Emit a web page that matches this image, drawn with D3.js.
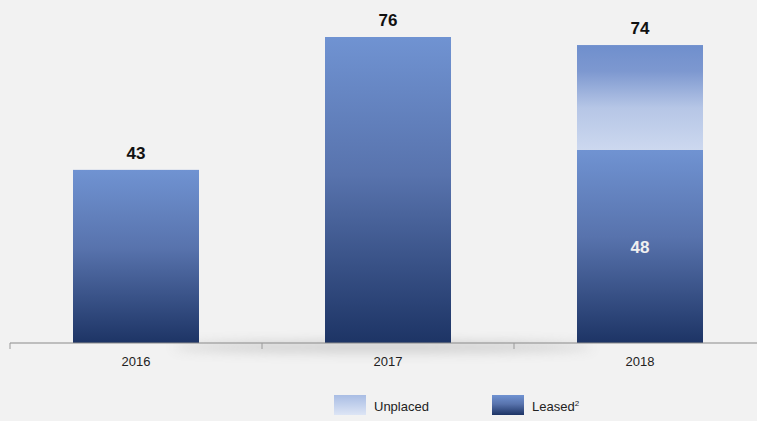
<!DOCTYPE html>
<html><head><meta charset="utf-8">
<script src="https://cdn.jsdelivr.net/npm/d3@7"></script>
<style>
html,body{margin:0;padding:0;background:#f2f2f2;}
svg{display:block;font-family:"Liberation Sans",Arial,sans-serif;}
</style></head>
<body><svg id="c" width="757" height="421"></svg>
<script>
const years = ["2016","2017","2018"];
const leased = [43, 76, 48];
const unplaced = [0, 0, 26];
const totals = [43, 76, 74];
const showInner = [false, false, true];

const W = 757, H = 421;
const svg = d3.select("#c");
const x = d3.scaleBand().domain(years).range([10, 766]).paddingInner(0.5).paddingOuter(0.25);
const y = d3.scaleLinear().domain([0, 76]).range([343, 37]);

const defs = svg.append("defs");
const gL = defs.append("linearGradient").attr("id","gL").attr("x1",0).attr("y1",0).attr("x2",0).attr("y2",1);
gL.append("stop").attr("offset","0%").attr("stop-color","#7093d2");
gL.append("stop").attr("offset","45%").attr("stop-color","#5873ad");
gL.append("stop").attr("offset","100%").attr("stop-color","#1d3465");
const gU = defs.append("linearGradient").attr("id","gU").attr("x1",0).attr("y1",0).attr("x2",0).attr("y2",1);
gU.append("stop").attr("offset","0%").attr("stop-color","#6f8fcd");
gU.append("stop").attr("offset","25%").attr("stop-color","#7d98d0");
gU.append("stop").attr("offset","60%").attr("stop-color","#b6c6e6");
gU.append("stop").attr("offset","100%").attr("stop-color","#ccd8ef");
const gLegU = defs.append("linearGradient").attr("id","gLegU").attr("x1",0).attr("y1",0).attr("x2",0).attr("y2",1);
gLegU.append("stop").attr("offset","0%").attr("stop-color","#a9bde4");
gLegU.append("stop").attr("offset","100%").attr("stop-color","#dde5f5");
const f = defs.append("filter").attr("id","blur").attr("x","-20%").attr("y","-200%").attr("width","140%").attr("height","500%");
f.append("feGaussianBlur").attr("stdDeviation", 6);

// soft shadow under axis
svg.append("ellipse").attr("cx", 383).attr("cy", 347).attr("rx", 210).attr("ry", 5)
  .attr("fill", "#9a9a9a").attr("opacity", 0.45).attr("filter","url(#blur)");

// leased bars
svg.selectAll("rect.l").data(years).join("rect").attr("class","l")
  .attr("x", d => x(d)).attr("width", x.bandwidth())
  .attr("y", (d,i) => y(leased[i])).attr("height", (d,i) => y(0) - y(leased[i]))
  .attr("fill", "url(#gL)");
// unplaced
svg.selectAll("rect.u").data(years.filter((d,i)=>unplaced[i]>0)).join("rect").attr("class","u")
  .attr("x", d => x(d)).attr("width", x.bandwidth())
  .attr("y", d => { const i = years.indexOf(d); return y(leased[i] + unplaced[i]); })
  .attr("height", d => { const i = years.indexOf(d); return y(leased[i]) - y(leased[i] + unplaced[i]); })
  .attr("fill", "url(#gU)");

// totals
svg.selectAll("text.t").data(years).join("text").attr("class","t")
  .attr("x", d => x(d) + x.bandwidth()/2).attr("y", (d,i) => y(totals[i]) - 11)
  .attr("text-anchor","middle").attr("font-size", 17).attr("font-weight","bold").attr("fill","#111")
  .text((d,i) => totals[i]);
// inner labels
svg.selectAll("text.in").data(years.filter((d,i)=>showInner[i])).join("text").attr("class","in")
  .attr("x", d => x(d) + x.bandwidth()/2)
  .attr("y", d => { const i = years.indexOf(d); return (y(0) + y(leased[i]))/2 + 7; })
  .attr("text-anchor","middle").attr("font-size", 17).attr("font-weight","bold").attr("fill","#f0f0f0")
  .text(d => leased[years.indexOf(d)]);

// axis
const axisG = svg.append("g").attr("transform", `translate(0,${y(0)})`);
axisG.append("line").attr("x1", 10).attr("x2", 757).attr("stroke", "#8a8a8a").attr("stroke-width", 1.2);
const bounds = [10, 262, 514];
axisG.selectAll("line.tk").data(bounds).join("line").attr("class","tk")
  .attr("x1", d=>d).attr("x2", d=>d).attr("y1", 0).attr("y2", 6).attr("stroke","#9a9a9a");
axisG.selectAll("text").data(years).join("text")
  .attr("x", d => x(d) + x.bandwidth()/2).attr("y", 23)
  .attr("text-anchor","middle").attr("font-size", 13).attr("fill","#222")
  .text(d => d);

// legend
const legend = [{name:"Unplaced", fill:"url(#gLegU)", x:334}, {name:"Leased", fill:"url(#gL)", x:492, sup:"2"}];
const lg = svg.selectAll("g.lg").data(legend).join("g").attr("class","lg")
  .attr("transform", d => `translate(${d.x},395)`);
lg.append("rect").attr("width", 32).attr("height", 20).attr("fill", d => d.fill);
const lt = lg.append("text").attr("x", 40).attr("y", 16).attr("font-size", 13).attr("fill","#222");
lt.append("tspan").text(d => d.name);
lt.filter(d => d.sup).append("tspan").attr("dy", -5).attr("font-size", 8).text(d => d.sup);
</script></body></html>
